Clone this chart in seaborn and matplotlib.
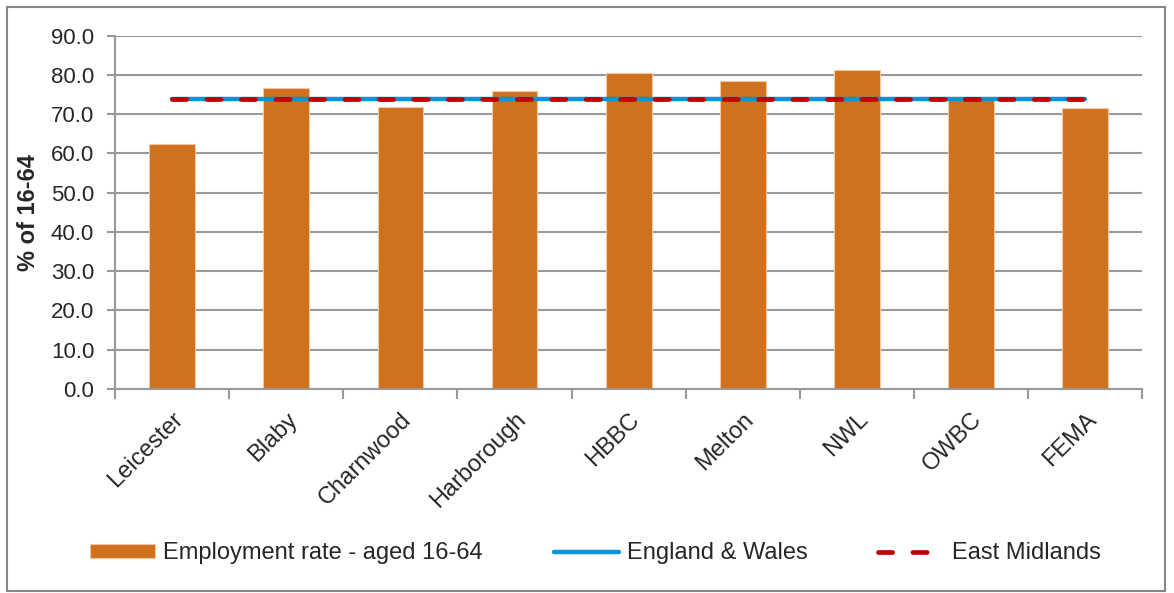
import matplotlib
matplotlib.use("Agg")
import matplotlib.pyplot as plt
import seaborn as sns
import pandas as pd
from matplotlib.patches import Rectangle

categories = ["Leicester", "Blaby", "Charnwood", "Harborough", "HBBC",
              "Melton", "NWL", "OWBC", "FEMA"]
employment_rate = [62.5, 76.7, 71.8, 75.9, 80.4, 78.4, 81.3, 73.9, 71.5]
england_wales = [73.8] * len(categories)
east_midlands = [73.8] * len(categories)
yticks = [0, 10, 20, 30, 40, 50, 60, 70, 80, 90]

sns.set_theme(style="white")
plt.rcParams['font.family'] = ['Liberation Sans', 'DejaVu Sans']

FS = 17

df = pd.DataFrame({"area": categories, "rate": employment_rate,
                   "ew": england_wales, "em": east_midlands})

fig = plt.figure(figsize=(11.74, 5.93), dpi=100)
ax = fig.add_axes([0.098, 0.344, 0.875, 0.596])

sns.barplot(data=df, x="area", y="rate", color="#D0711E", width=0.4,
            edgecolor="#F2C8A0", linewidth=0.8, saturation=1, ax=ax,
            label="Employment rate - aged 16-64", zorder=2)
sns.lineplot(data=df, x="area", y="ew", color="#0096D6", linewidth=3.2,
             ax=ax, label="England & Wales", zorder=3)
sns.lineplot(data=df, x="area", y="em", color="#C00000", linewidth=3.4,
             ax=ax, label="East Midlands", zorder=4)
red = ax.lines[-1]
red.set_dashes([3.0, 4.3])
red.set_dash_capstyle("round")
ax.lines[-2].set_solid_capstyle("round")

ax.set_xlim(-0.5, len(categories) - 0.5)
ax.set_ylim(0, 90)
ax.set_yticks(yticks)
ax.set_yticklabels([f"{v:.1f}" for v in yticks], fontsize=16)
ax.set_xticks(range(len(categories)))
ax.set_xticklabels(categories, rotation=45, ha="right", rotation_mode="anchor", fontsize=FS)
ax.set_xlabel("")
ax.set_ylabel("% of 16-64", fontsize=FS, fontweight="bold", labelpad=8)

ax.yaxis.grid(True, color="#999999", linewidth=1.5, zorder=0)
ax.set_axisbelow(True)
for s in ["top", "right"]:
    ax.spines[s].set_visible(False)
for s in ["left", "bottom"]:
    ax.spines[s].set_color("#999999")
    ax.spines[s].set_linewidth(1.5)

ax.tick_params(axis="y", which="major", left=True, length=6, width=1.5,
               color="#999999", pad=9)
ax.set_xticks([i - 0.5 for i in range(len(categories) + 1)], minor=True)
ax.tick_params(axis="x", which="major", bottom=False, pad=8)
ax.tick_params(axis="x", which="minor", bottom=True, length=7, width=1.5,
               color="#999999")

handles, labels = ax.get_legend_handles_labels()
if ax.legend_:
    ax.legend_.remove()
order = [labels.index("Employment rate - aged 16-64"),
         labels.index("England & Wales"), labels.index("East Midlands")]
fig.legend([handles[i] for i in order], [labels[i] for i in order],
           loc="center", bbox_to_anchor=(0.507, 0.067), ncol=3,
           frameon=False, fontsize=FS, handlelength=2.75, handleheight=0.5,
           columnspacing=3.0, handletextpad=0.35)

fig.add_artist(Rectangle((0.006, 0.003), 0.986, 0.985, transform=fig.transFigure,
                         fill=False, edgecolor="#888888", linewidth=1.5))

fig.savefig("out.png", dpi=100)
